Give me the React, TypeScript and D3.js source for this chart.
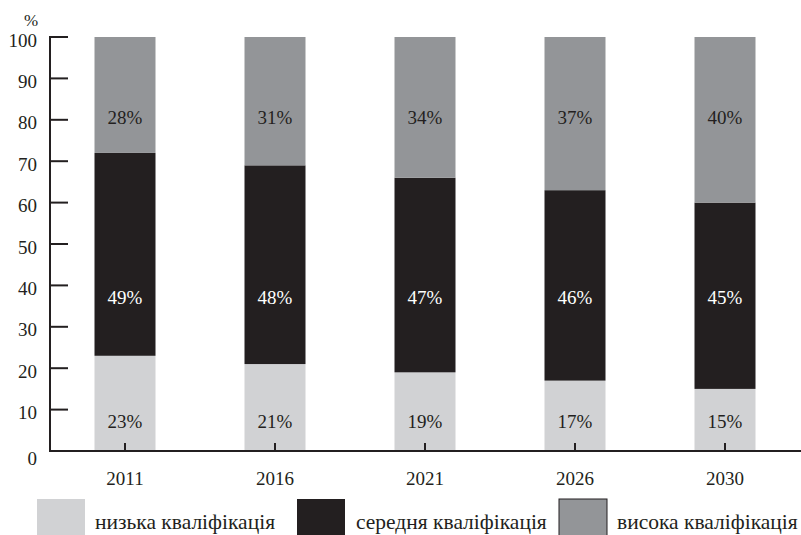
import React from "react";
import * as d3 from "d3";

const years = ["2011", "2016", "2021", "2026", "2030"];
const low = [23, 21, 19, 17, 15];
const mid = [49, 48, 47, 46, 45];
const high = [28, 31, 34, 37, 40];
const yTicks = [0, 10, 20, 30, 40, 50, 60, 70, 80, 90, 100];
const seriesNames = ["низька кваліфікація", "середня кваліфікація", "висока кваліфікація"];
const colors = ["#d1d2d4", "#231f20", "#939598"];
const labelColors = ["#231f20", "#ffffff", "#231f20"];
const labelPos = [7.2, 37.2, 80.7];

const W = 801;
const H = 535;
const FONT = "Liberation Serif";
const FS = 19;

export default function App() {
  const x = d3.scalePoint<string>().domain(years).range([50, 800]).padding(0.5);
  const y = d3.scaleLinear().domain([0, 100]).range([451, 37]);
  const barW = 61;
  const series = [low, mid, high];

  const legendItems = [
    { sx: 37, tx: 95 },
    { sx: 297, tx: 356 },
    { sx: 559, tx: 617 },
  ];

  const ts = { fontFamily: FONT, fontSize: FS } as React.CSSProperties;

  return (
    <svg
      width={W}
      height={H}
      style={{ position: "absolute", left: 0, top: 0, background: "#fff", fontFamily: FONT }}
    >
      {years.map((yr, i) => {
        let base = 0;
        return (
          <g key={yr}>
            {series.map((s, k) => {
              const v0 = base;
              const v1 = base + s[i];
              base = v1;
              return (
                <rect
                  key={k}
                  x={(x(yr) as number) - barW / 2}
                  y={y(v1)}
                  width={barW}
                  height={y(v0) - y(v1)}
                  fill={colors[k]}
                />
              );
            })}
            {series.map((s, k) => (
              <text
                key={"l" + k}
                x={x(yr) as number}
                y={y(labelPos[k])}
                dy="0.35em"
                textAnchor="middle"
                style={ts}
                fill={labelColors[k]}
              >
                {s[i]}%
              </text>
            ))}
            <line
              x1={x(yr) as number}
              x2={x(yr) as number}
              y1={y(0)}
              y2={y(0) - 8}
              stroke="#231f20"
              strokeWidth={2}
            />
            <text
              x={x(yr) as number}
              y={y(0) + 27}
              dy="0.35em"
              textAnchor="middle"
              style={ts}
              fill="#231f20"
            >
              {yr}
            </text>
          </g>
        );
      })}

      {/* y axis */}
      <line x1={50} x2={50} y1={y(100) - 1} y2={y(0) + 1} stroke="#231f20" strokeWidth={2} />
      {yTicks.map((t) => (
        <g key={t}>
          {t > 0 && (
            <line x1={50} x2={68} y1={y(t)} y2={y(t)} stroke="#231f20" strokeWidth={2} />
          )}
          <text
            x={37}
            y={y(t) + (t === 0 ? 7 : 3)}
            dy="0.35em"
            textAnchor="end"
            style={ts}
            fill="#231f20"
          >
            {t}
          </text>
        </g>
      ))}
      <text x={31} y={20} dy="0.35em" textAnchor="middle" style={{ fontFamily: FONT, fontSize: 17 }} fill="#231f20">
        %
      </text>

      {/* x axis */}
      <line x1={49} x2={801} y1={y(0)} y2={y(0)} stroke="#231f20" strokeWidth={2} />

      {/* legend */}
      {legendItems.map((it, k) => (
        <g key={k}>
          <rect
            x={it.sx}
            y={499}
            width={48}
            height={40}
            fill={colors[k]}
            stroke={k === 2 ? "#231f20" : "none"}
            strokeWidth={1}
          />
          <text x={it.tx} y={521} dy="0.35em" style={{ fontFamily: FONT, fontSize: 21.5 }} fill="#231f20">
            {seriesNames[k]}
          </text>
        </g>
      ))}
    </svg>
  );
}
